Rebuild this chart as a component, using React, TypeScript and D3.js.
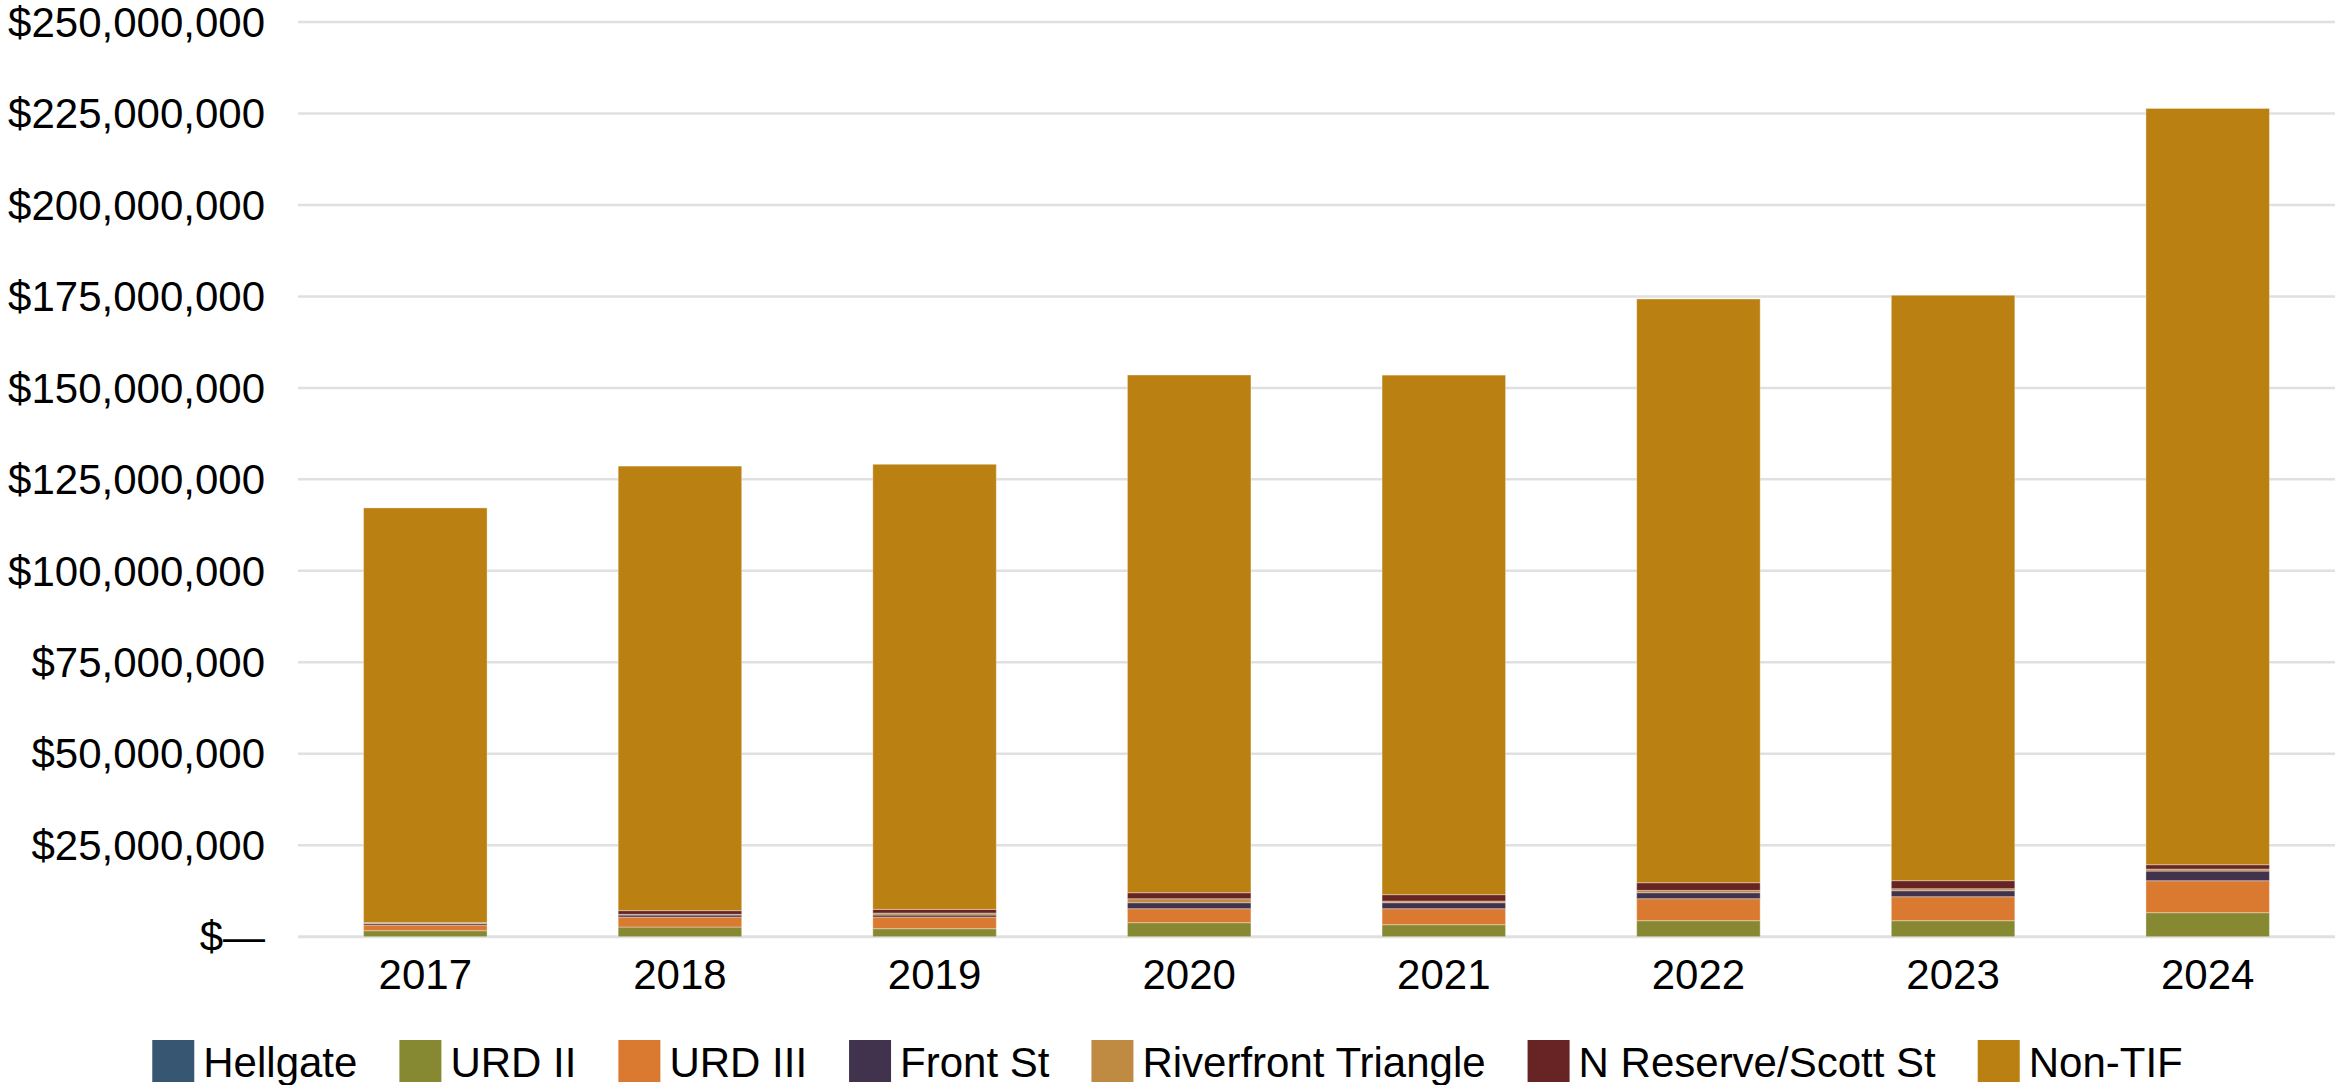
import React, { useEffect, useRef } from "react";
import * as d3 from "d3";

const years = ["2017", "2018", "2019", "2020", "2021", "2022", "2023", "2024"];
const seriesNames = ["Hellgate", "URD II", "URD III", "Front St", "Riverfront Triangle", "N Reserve/Scott St", "Non-TIF"];
const seriesColors = ["#375672", "#868832", "#DA7A30", "#41334E", "#BF8A42", "#682324", "#BA8011"];
// values in millions of dollars
const hellgate = [0, 0, 0, 0, 0, 0, 0, 0];
const urd2 = [1.64, 2.64, 2.19, 3.83, 3.28, 4.37, 4.37, 6.56];
const urd3 = [1.55, 2.73, 3.18, 3.82, 4.37, 6.01, 6.56, 8.74];
const frontSt = [0.4, 0.55, 0.55, 1.64, 1.64, 1.64, 1.64, 2.64];
const riverfront = [0.1, 0.2, 0.55, 1.09, 0.46, 0.64, 0.55, 0.55];
const nReserve = [0.2, 1.0, 1.0, 1.64, 1.73, 2.09, 2.19, 1.18];
const nonTif = [113.3, 121.5, 121.65, 141.5, 142.0, 159.55, 160.0, 206.7];
const yTicks = [0, 25, 50, 75, 100, 125, 150, 175, 200, 225, 250];

const W = 2335;
const H = 1085;

export default function App() {
  const ref = useRef<SVGSVGElement>(null);

  useEffect(() => {
    const svg = d3.select(ref.current);
    svg.selectAll("*").remove();
    const font = "'Liberation Sans', Arial, sans-serif";

    const x = d3.scaleBand<string>().domain(years).range([298, 2335]).paddingInner(0.515).paddingOuter(0.2575);
    const y = d3.scaleLinear().domain([0, 250]).range([936.7, 22]);

    const allSeries = [hellgate, urd2, urd3, frontSt, riverfront, nReserve, nonTif];
    const rows = years.map((yr, i) => {
      const r: any = { year: yr };
      seriesNames.forEach((n, k) => (r[n] = allSeries[k][i]));
      return r;
    });
    const stacked = d3.stack<any>().keys(seriesNames)(rows);

    // grid
    svg.append("g")
      .selectAll("line")
      .data(yTicks)
      .join("line")
      .attr("x1", 298)
      .attr("x2", W)
      .attr("y1", (d) => y(d))
      .attr("y2", (d) => y(d))
      .attr("stroke", "#e0e0e0")
      .attr("stroke-width", (d) => (d === 0 ? 3 : 2.5));

    // y labels
    const fmt = d3.format(",");
    svg.append("g")
      .selectAll("text")
      .data(yTicks)
      .join("text")
      .attr("x", 265)
      .attr("y", (d) => y(d))
      .attr("dy", "0.35em")
      .attr("text-anchor", "end")
      .attr("font-family", font)
      .attr("font-size", 42)
      .attr("fill", "#000")
      .text((d) => (d === 0 ? "$—" : "$" + fmt(d * 1000000)));

    // bars
    svg.append("g")
      .selectAll("g")
      .data(stacked)
      .join("g")
      .attr("fill", (_, i) => seriesColors[i])
      .selectAll("rect")
      .data((s) => s)
      .join("rect")
      .attr("x", (d: any) => x(d.data.year)!)
      .attr("width", x.bandwidth())
      .attr("y", (d) => y(d[1]))
      .attr("height", (d) => Math.max(0, y(d[0]) - y(d[1])))
      .attr("stroke", "rgba(255,255,255,0.35)")
      .attr("stroke-width", (d) => (d[1] - d[0] > 0 ? 1 : 0));

    // x labels
    svg.append("g")
      .selectAll("text")
      .data(years)
      .join("text")
      .attr("x", (d) => x(d)! + x.bandwidth() / 2)
      .attr("y", 989)
      .attr("text-anchor", "middle")
      .attr("font-family", font)
      .attr("font-size", 42)
      .attr("fill", "#000")
      .text((d) => d);

    // legend
    const leg = svg.append("g");
    const sq = 42;
    const gapText = 9;
    const gapItem = 42;
    const items = seriesNames.map((n, i) => {
      const g = leg.append("g");
      g.append("rect").attr("x", 0).attr("y", 1040).attr("width", sq).attr("height", sq).attr("fill", seriesColors[i]);
      const t = g.append("text")
        .attr("x", sq + gapText)
        .attr("y", 1077)
        .attr("font-family", font)
        .attr("font-size", 42)
        .attr("fill", "#000")
        .text(n);
      const w = (t.node() as SVGTextElement).getComputedTextLength();
      return { g, w: sq + gapText + w };
    });
    const total = d3.sum(items, (d) => d.w) + gapItem * (items.length - 1);
    let cx = (W - total) / 2;
    items.forEach((it) => {
      it.g.attr("transform", `translate(${cx},0)`);
      cx += it.w + gapItem;
    });
  }, []);

  return (
    <svg
      ref={ref}
      width={W}
      height={H}
      style={{ position: "absolute", left: 0, top: 0, background: "#fff" }}
    />
  );
}
